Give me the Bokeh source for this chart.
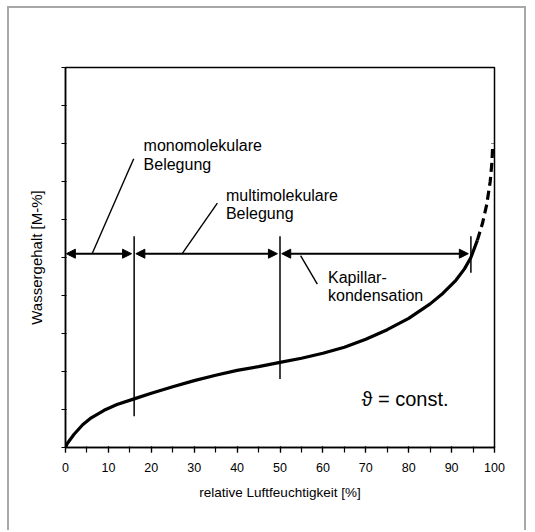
from bokeh.plotting import figure
from bokeh.models import Range1d, FixedTicker, SingleIntervalTicker, Arrow, NormalHead, ColumnDataSource
from bokeh.core.properties import value
from bokeh.embed import file_html
from bokeh.resources import INLINE

# ---- data ----
# sorption isotherm, solid part
rh_solid = [0, 0.5, 2, 4, 6, 9, 12, 16, 20, 25, 30, 35, 40, 45, 50, 55, 60, 65, 70, 75,
            80, 85, 88, 91, 93, 94.5, 96]
wg_solid = [0.0, 0.12, 0.35, 0.6, 0.78, 0.98, 1.13, 1.28, 1.43, 1.6, 1.76, 1.9, 2.03, 2.13,
            2.24, 2.35, 2.48, 2.64, 2.85, 3.1, 3.4, 3.78, 4.06, 4.4, 4.7, 5.0, 5.45]
# extrapolated part (dashed)
rh_dashed = [96, 97.2, 98.2, 99.0, 99.4, 99.6]
wg_dashed = [5.45, 5.9, 6.4, 7.0, 7.5, 8.0]

# region boundaries (relative humidity) and the level of the range arrows
boundaries = [0, 16, 50, 94.5]
boundary_low = [None, 0.82, 1.8, 4.6]
boundary_high = 5.56
arrow_level = 5.1

# leader lines: (x0, y0) on arrow -> (x1, y1) at label
lead_x0 = [6.2, 27.2, 54.8]
lead_y0 = [5.1, 5.1, 5.05]
lead_x1 = [15.9, 35.4, 58.7]
lead_y1 = [7.6, 6.43, 4.3]

# labels
label_lines = ["monomolekulare", "Belegung", "multimolekulare", "Belegung", "Kapillar-", "kondensation"]
label_x = [18.2, 18.2, 37.4, 37.4, 61.2, 61.2]
label_y = [7.94, 7.45, 6.63, 6.17, 4.48, 3.99]
const_text = ["\u03d1 = const."]
const_x = [69.0]
const_y = [1.28]

x_title = "relative Luftfeuchtigkeit [%]"
y_title = "Wassergehalt [M-%]"

FONT = "Liberation Sans"

p = figure(width=519, height=524, output_backend="svg", toolbar_location=None,
           x_range=Range1d(0, 100), y_range=Range1d(0, 10),
           min_border_left=56, min_border_right=34, min_border_top=59, min_border_bottom=85,
           background_fill_color="white", border_fill_color="white")
p.styles = {"margin-left": "7px", "margin-top": "6px",
            "border-left": "2px solid #a8a8a8", "border-top": "2px solid #a8a8a8",
            "border-right": "2px solid #a8a8a8"}
p.grid.visible = False
p.outline_line_color = "black"
p.outline_line_width = 1.5

# x axis
xa = p.xaxis[0]
xa.ticker = SingleIntervalTicker(interval=10, num_minor_ticks=2)
xa.axis_label = x_title
xa.axis_label_text_font = FONT
xa.axis_label_text_font_size = "13.5px"
xa.axis_label_text_font_style = "normal"
xa.axis_label_text_color = "black"
xa.axis_label_standoff = 10
xa.major_label_text_font = FONT
xa.major_label_text_font_size = "12.5px"
xa.major_label_text_color = "black"
xa.major_label_standoff = 10
xa.axis_line_width = 1.5
xa.axis_line_color = "black"
xa.major_tick_out = 5
xa.major_tick_in = 1
xa.minor_tick_out = 5
xa.minor_tick_in = 1
xa.major_tick_line_width = 1.2
xa.minor_tick_line_width = 1.2
xa.major_tick_line_color = "black"
xa.minor_tick_line_color = "black"

# y axis
ya = p.yaxis[0]
ya.ticker = FixedTicker(ticks=list(range(0, 11)), minor_ticks=[])
ya.major_label_overrides = {i: "" for i in range(0, 11)}
ya.axis_label = y_title
ya.axis_label_text_font = FONT
ya.axis_label_text_font_size = "15px"
ya.axis_label_text_font_style = "normal"
ya.axis_label_text_color = "black"
ya.axis_label_standoff = 17
ya.axis_line_width = 1.5
ya.axis_line_color = "black"
ya.major_tick_out = 4
ya.major_tick_in = 1
ya.major_tick_line_width = 1.2
ya.major_tick_line_color = "black"
ya.minor_tick_line_color = None

# curve
p.line(rh_solid, wg_solid, line_color="black", line_width=3.2)
p.line(rh_dashed, wg_dashed, line_color="black", line_width=3.2, line_dash="9 5")

# boundary lines
for bx, lo in zip(boundaries[1:], boundary_low[1:]):
    p.segment(x0=[bx], y0=[lo], x1=[bx], y1=[boundary_high], line_color="black", line_width=1.5)

# range arrows
for a, b in zip(boundaries[:-1], boundaries[1:]):
    pad = 0.4 if a > 0 else 0.2
    p.add_layout(Arrow(x_start=a + pad, y_start=arrow_level, x_end=b - 0.6, y_end=arrow_level,
                       line_color="black", line_width=2,
                       start=NormalHead(size=9, fill_color="black", line_color="black", line_width=1),
                       end=NormalHead(size=9, fill_color="black", line_color="black", line_width=1)))

# leader lines
p.segment(x0=lead_x0, y0=lead_y0, x1=lead_x1, y1=lead_y1, line_color="black", line_width=1.4)

# labels
src = ColumnDataSource(dict(x=label_x, y=label_y, t=label_lines))
p.text(x="x", y="y", text="t", source=src, text_font=value(FONT), text_font_size="16px",
       text_baseline="middle", text_align="left", text_color="black")
p.text(x=const_x, y=const_y, text=const_text, text_font=value(FONT), text_font_size="20px",
       text_baseline="middle", text_align="left", text_color="black")

open("out.html", "w").write(file_html(p, INLINE))
